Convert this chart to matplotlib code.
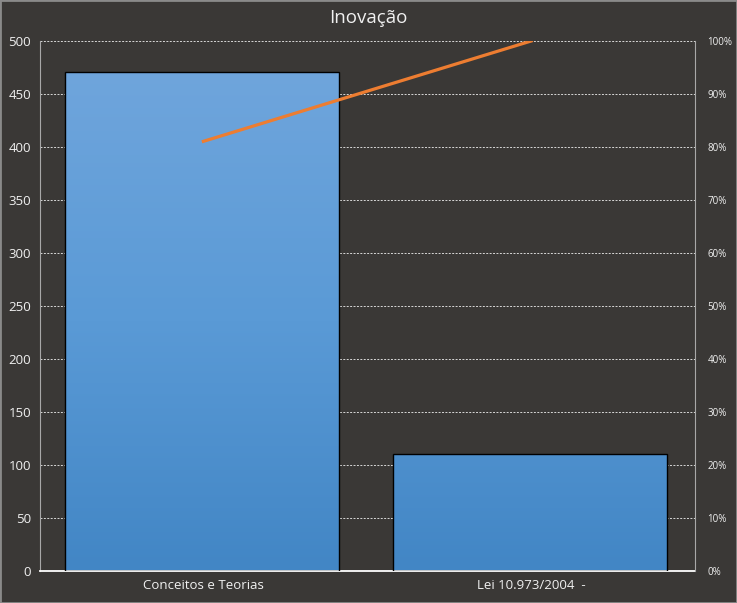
import numpy as np
import matplotlib
matplotlib.use("Agg")
import matplotlib.pyplot as plt
from matplotlib.colors import LinearSegmentedColormap
from matplotlib.patches import Rectangle

categories = ["Conceitos e Teorias", "Lei 10.973/2004  -"]
counts = [471, 110]
cum_pct = list(np.cumsum(counts) / np.sum(counts) * 100)

bg = "#3a3836"
plt.rcParams["font.family"] = ["Open Sans", "DejaVu Sans"]

fig = plt.figure(figsize=(7.37, 6.03), dpi=100, facecolor=bg)
ax = fig.add_axes([39.5 / 737, 32 / 603, (695 - 39.5) / 737, (571 - 41) / 603])
ax.set_facecolor(bg)

x = np.arange(len(categories))
width = 0.835
bars = ax.bar(x - 0.004, counts, width=width, color="none", edgecolor="black", lw=1, zorder=3)

# vertical gradient fill, clipped to each bar
cmap = LinearSegmentedColormap.from_list("g", ["#4286c5", "#5a9ad6", "#6fa5dc"])
grad = np.linspace(0, 1, 256).reshape(-1, 1)
for b in bars:
    im = ax.imshow(grad, cmap=cmap, origin="lower", aspect="auto",
                   extent=(-0.5, 1.5, 0, 471), vmin=0, vmax=1, zorder=2)
    im.set_clip_path(b)
ax.set_xlim(-0.5, 1.5)
ax.set_ylim(0, 500)
ax.set_yticks(range(0, 501, 50))
ax.yaxis.grid(True, color="#d8d8d8", ls=(0, (2, 1.5)), lw=0.7, zorder=1)
ax.set_axisbelow(True)
ax.set_xticks(x)
ax.set_xticklabels(categories, color="#f0f0f0", fontsize=9.5)
ax.tick_params(axis="x", length=0, pad=6)
ax.tick_params(axis="y", length=0, colors="#f0f0f0", labelsize=9.5, pad=6)
for s in ["top", "right"]:
    ax.spines[s].set_visible(False)
ax.spines["left"].set_color("#a8a8a8")
ax.spines["bottom"].set_color("white")
ax.spines["bottom"].set_linewidth(1.3)

ax2 = ax.twinx()
ax2.plot(x, cum_pct, color="#ed7d31", lw=2.3, zorder=4)
ax2.set_ylim(0, 100)
ax2.set_yticks(range(0, 101, 10))
ax2.set_yticklabels([f"{v}%" for v in range(0, 101, 10)])
ax2.tick_params(axis="y", length=0, colors="#f0f0f0", labelsize=7, pad=9)
for s in ["top", "left", "bottom"]:
    ax2.spines[s].set_visible(False)
ax2.spines["right"].set_color("#a8a8a8")

fig.text(0.5, 1 - 18 / 603, "Inovação", ha="center", va="center",
         color="#f0f0f0", fontsize=13.5)
fig.patches.append(Rectangle((0, 0), 1, 1, transform=fig.transFigure,
                             fill=False, edgecolor="#8a8a8a", lw=2))

fig.savefig("out.png", dpi=100, facecolor=bg)
